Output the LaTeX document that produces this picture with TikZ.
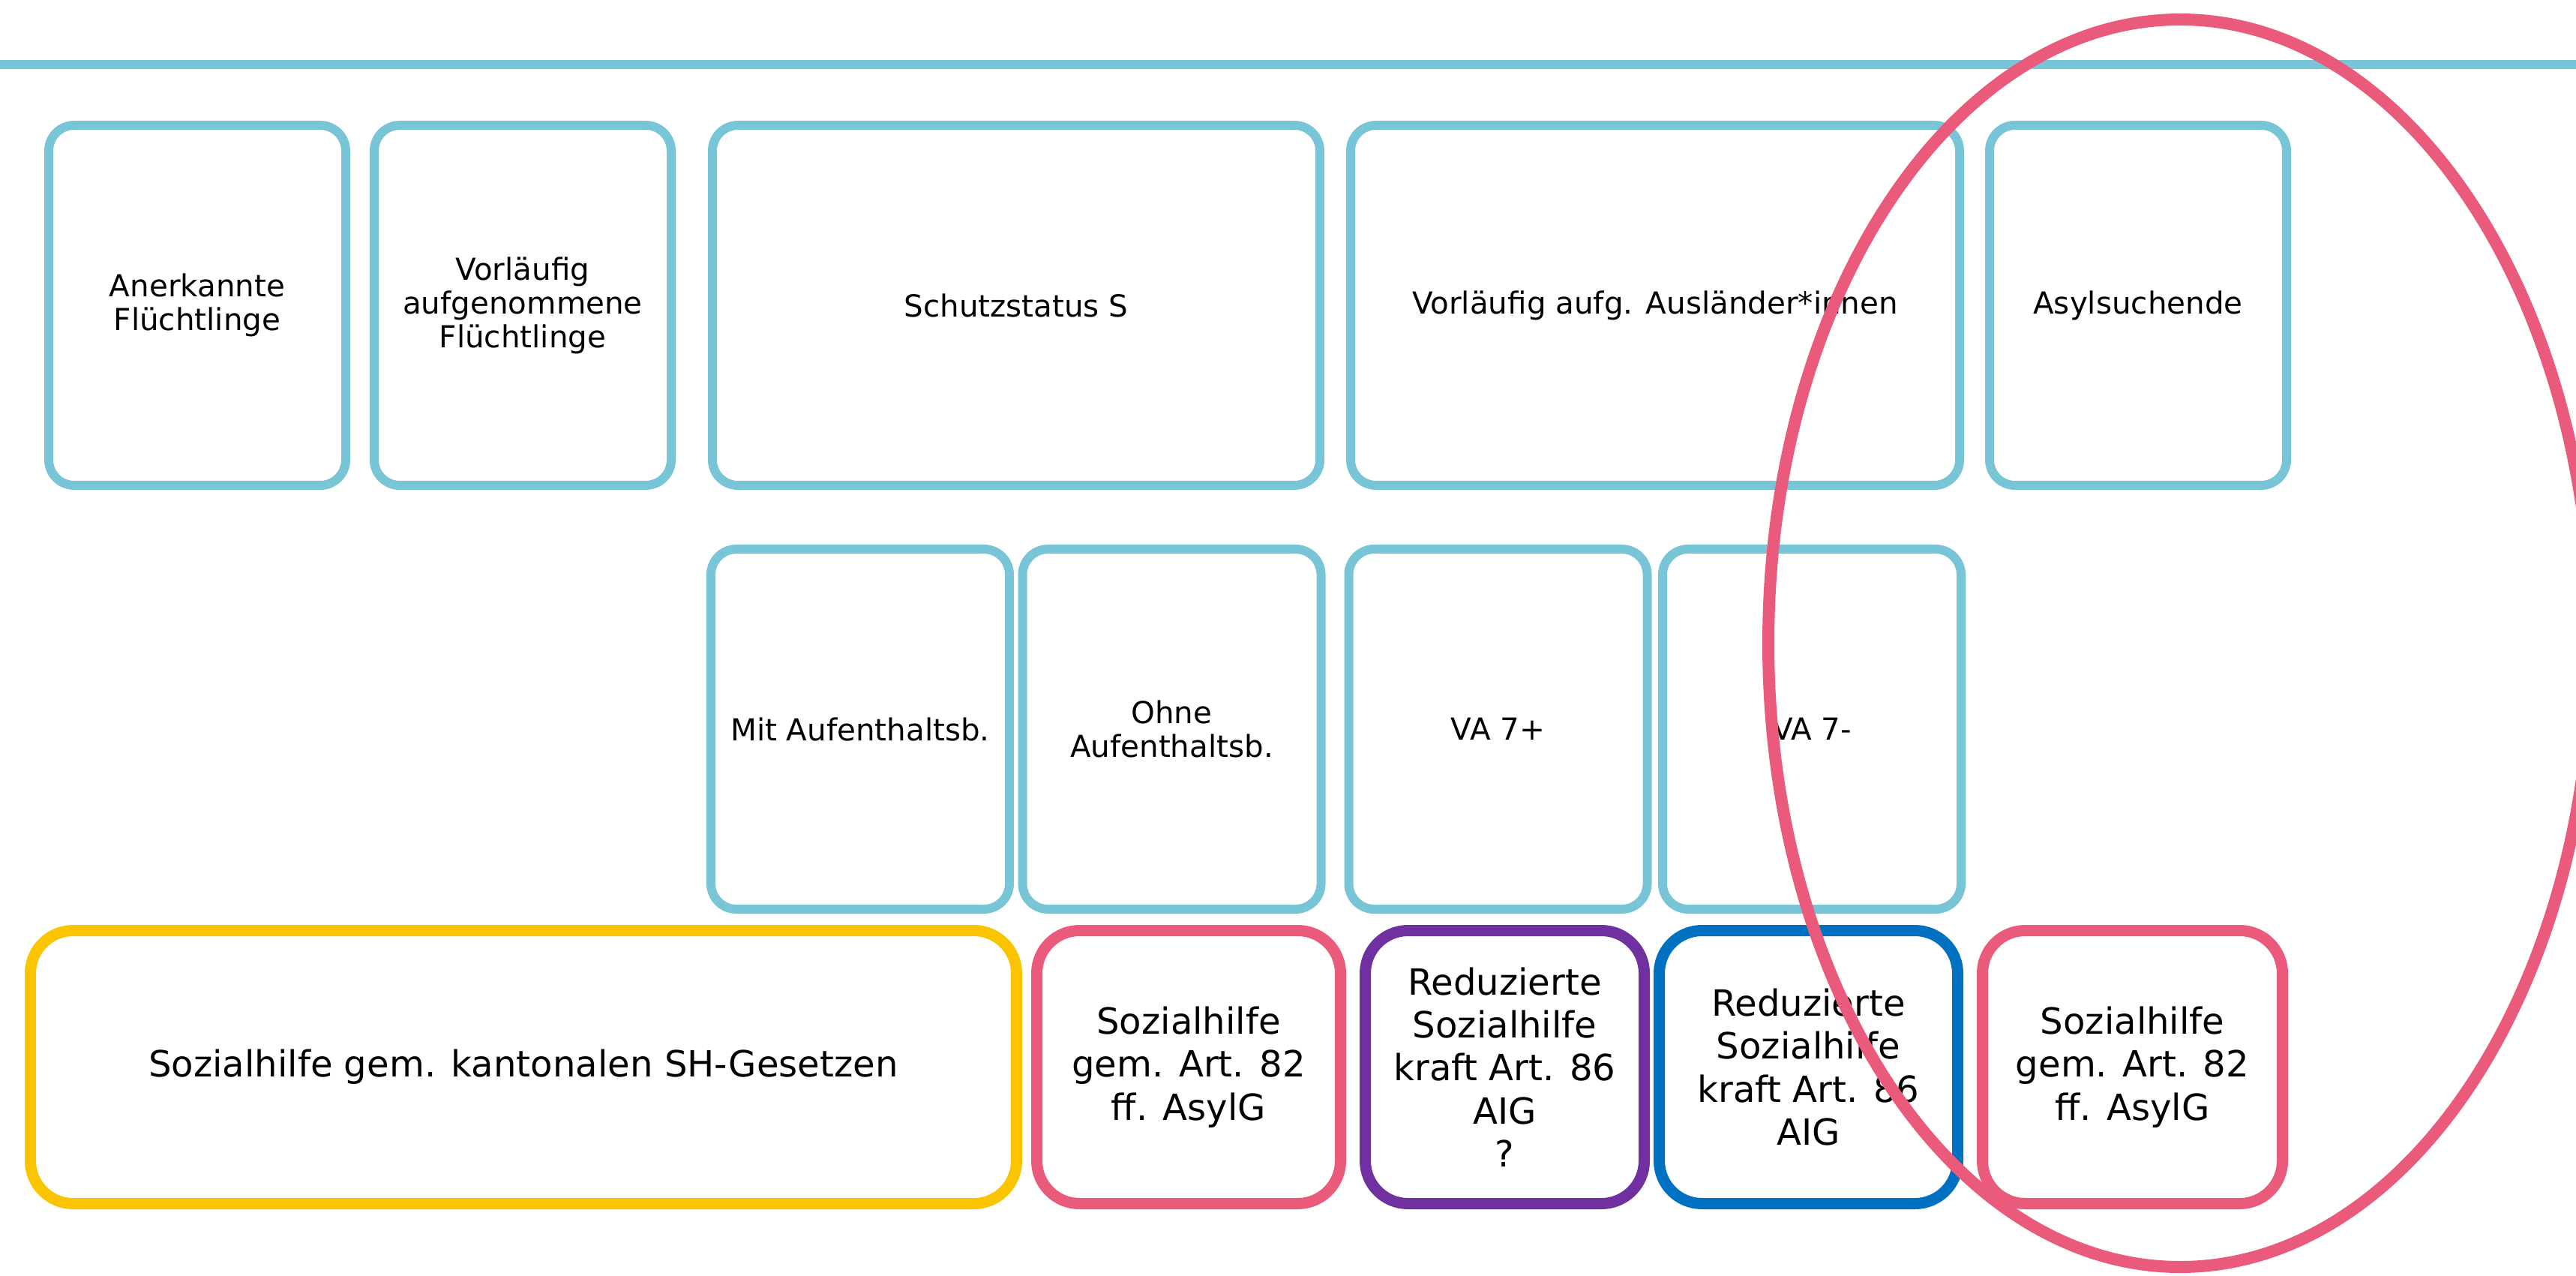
\documentclass[tikz,border=0pt]{standalone}
\usepackage{fontspec}
\setmainfont{DejaVu Sans}
\definecolor{statusblue}{HTML}{78C5D8}
\definecolor{shyellow}{HTML}{FBC400}
\definecolor{shpink}{HTML}{EA5B7B}
\definecolor{shpurple}{HTML}{7030A0}
\definecolor{shblue}{HTML}{0070C0}
\begin{document}
\begin{tikzpicture}[x=1cm, y=-1cm, every node/.style={rectangle, draw, align=center, inner sep=0pt}, status/.style={line width=0.12cm, draw=statusblue, rounded corners=0.34cm, minimum width=3.96cm, minimum height=4.80cm, font=\fontsize{11.5}{12.8}\selectfont}, aid/.style={line width=0.15cm, rounded corners=0.57cm, minimum height=3.64cm, font=\fontsize{13.7}{16.3}\selectfont}]
    \useasboundingbox (0,0) rectangle (34.35,17.01);
    \clip (0,0) rectangle (34.35,17.01);

        % Top rule.
        \draw[statusblue, line width=0.115cm] (0,0.86) -- (34.35,0.86);

        % Status row.
        \node[status] (S-anerk) at (2.63,4.07) {Anerkannte\\Flüchtlinge};
        \node[status] (S-vfl) at (6.97,4.07) {Vorläufig\\aufgenommene\\Flüchtlinge};
        \node[status, minimum width=8.10cm] (S-schutz) at (13.55,4.07) {Schutzstatus S};
        \node[status, minimum width=8.12cm] (S-vaa) at (22.07,4.07) {Vorläufig aufg. Ausländer*innen};
        \node[status] (S-asyl) at (28.51,4.07) {Asylsuchende};

        % Sub row.
        \node[status, minimum width=3.98cm] (U-mit) at (11.47,9.72) {Mit Aufenthaltsb.};
        \node[status, minimum width=3.98cm] (U-ohne) at (15.625,9.72) {Ohne\\Aufenthaltsb.};
        \node[status, minimum width=3.98cm] (U-va7p) at (19.975,9.72) {VA 7+};
        \node[status, minimum width=3.98cm] (U-va7m) at (24.16,9.72) {VA 7-};

        % Aid row.
        \node[aid, draw=shyellow, minimum width=13.15cm] (A-kant) at (6.98,14.225) {Sozialhilfe gem. kantonalen SH-Gesetzen};
        \node[aid, draw=shpink, minimum width=4.05cm] (A-asylg1) at (15.85,14.225) {Sozialhilfe\\gem. Art. 82\\ff. AsylG};
        \node[aid, draw=shpurple, minimum width=3.72cm] (A-aig1) at (20.065,14.225) {Reduzierte\\Sozialhilfe\\kraft Art. 86\\AIG\\?};
        \node[aid, draw=shblue, minimum width=3.98cm] (A-aig2) at (24.115,14.225) {Reduzierte\\Sozialhilfe\\kraft Art. 86\\AIG};
        \node[aid, draw=shpink, minimum width=4.00cm] (A-asylg2) at (28.435,14.225) {Sozialhilfe\\gem. Art. 82\\ff. AsylG};

        % Highlight.
        \draw[shpink, line width=0.16cm] (29.07,8.575) ellipse [x radius=5.49, y radius=8.315];

    \end{tikzpicture}
\end{document}
